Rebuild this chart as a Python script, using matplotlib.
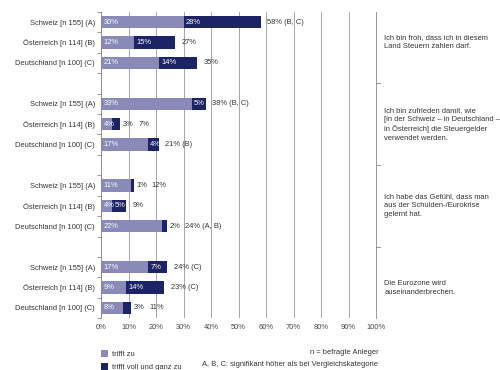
import matplotlib.pyplot as plt
from matplotlib.ticker import FixedLocator

plt.rcParams['font.family'] = ['Liberation Sans', 'DejaVu Sans']

# data
countries = ['Schweiz [n 155] (A)', 'Österreich [n 114] (B)', 'Deutschland [n 100] (C)']
statements = [
    'Ich bin froh, dass ich in diesem\nLand Steuern zahlen darf.',
    'Ich bin zufrieden damit, wie\n[in der Schweiz – in Deutschland –\nin Österreich] die Steuergelder\nverwendet werden.',
    'Ich habe das Gefühl, dass man\naus der Schulden-/Eurokrise\ngelernt hat.',
    'Die Eurozone wird\nauseinanderbrechen.',
]
trifft_zu = [[30, 12, 21], [33, 4, 17], [11, 4, 22], [17, 9, 8]]
voll_zu = [[28, 15, 14], [5, 3, 4], [1, 5, 2], [7, 14, 3]]
totals = [['58% (B, C)', '27%', '35%'],
          ['38% (B, C)', '7%', '21% (B)'],
          ['12%', '9%', '24% (A, B)'],
          ['24% (C)', '23% (C)', '11%']]

LIGHT = '#8a8ab8'
DARK = '#1d2466'
FS = 5.4

fig = plt.figure(figsize=(5, 3.7), dpi=100)
ax = fig.add_axes([0.202, 0.14, 0.55, 0.828])

ypos, labels = [], []
for g in range(4):
    for r in range(3):
        y = g * 4 + r
        a, b = trifft_zu[g][r], voll_zu[g][r]
        h1 = ax.barh(y, a, height=0.6, color=LIGHT, zorder=2)
        h2 = ax.barh(y, b, left=a, height=0.6, color=DARK, zorder=2)
        ax.text(0.9, y, f'{a}%', color='white', va='center', fontsize=FS, zorder=3)
        end = a + b
        if b <= 3:
            ax.text(end + 1.0, y, f'{b}%', color='#333333', va='center', fontsize=FS)
            ax.text(end + 6.5, y, totals[g][r], color='#333333', va='center', fontsize=FS)
        else:
            ax.text(a + 0.9, y, f'{b}%', color='white', va='center', fontsize=FS, zorder=3)
            ax.text(end + 2.4, y, totals[g][r], color='#333333', va='center', fontsize=FS)
        ypos.append(y)
        labels.append(countries[r])
    ax.text(103, g * 4 + 1, statements[g], va='center', ha='left', fontsize=FS,
            color='#333333', linespacing=1.4, clip_on=False)

ax.set_xlim(0, 100)
ax.set_ylim(14.5, -0.5)
ax.set_xticks(range(0, 101, 10))
ax.set_xticklabels([f'{v}%' for v in range(0, 101, 10)], fontsize=FS, color='#444444')
ax.set_yticks(ypos)
ax.set_yticklabels(labels, fontsize=FS, color='#333333')
ax.tick_params(axis='y', which='major', length=0, pad=4.5)
ax.tick_params(axis='x', length=0, pad=4)
ax.yaxis.set_minor_locator(FixedLocator([i - 0.5 for i in range(16)]))
ax.tick_params(axis='y', which='minor', length=3, width=0.6, color='#888888')
ax.grid(axis='x', color='#999999', linewidth=0.6, zorder=0)

for s in ['top', 'bottom']:
    ax.spines[s].set_visible(False)
for s in ['left', 'right']:
    ax.spines[s].set_color('#888888')
    ax.spines[s].set_linewidth(0.6)

# ticks on right spine at group separators
for yy in [3, 7, 11]:
    ax.plot([100, 101.3], [yy, yy], color='#888888', linewidth=0.6, clip_on=False)

fig.legend(handles=[h1, h2], labels=['trifft zu', 'trifft voll und ganz zu'],
           loc='lower left', bbox_to_anchor=(0.188, -0.022), frameon=False,
           fontsize=FS, handlelength=1.0, handleheight=1.1, handletextpad=0.5,
           labelspacing=0.7, labelcolor='#333333')
fig.text(0.757, 1 - 352 / 370, 'n = befragte Anleger', ha='right', va='center',
         fontsize=FS, color='#333333')
fig.text(0.757, 1 - 365 / 370, 'A, B, C: signifikant höher als bei Vergleichskategorie',
         ha='right', va='center', fontsize=FS, color='#333333')

fig.savefig('out.png', dpi=100)
